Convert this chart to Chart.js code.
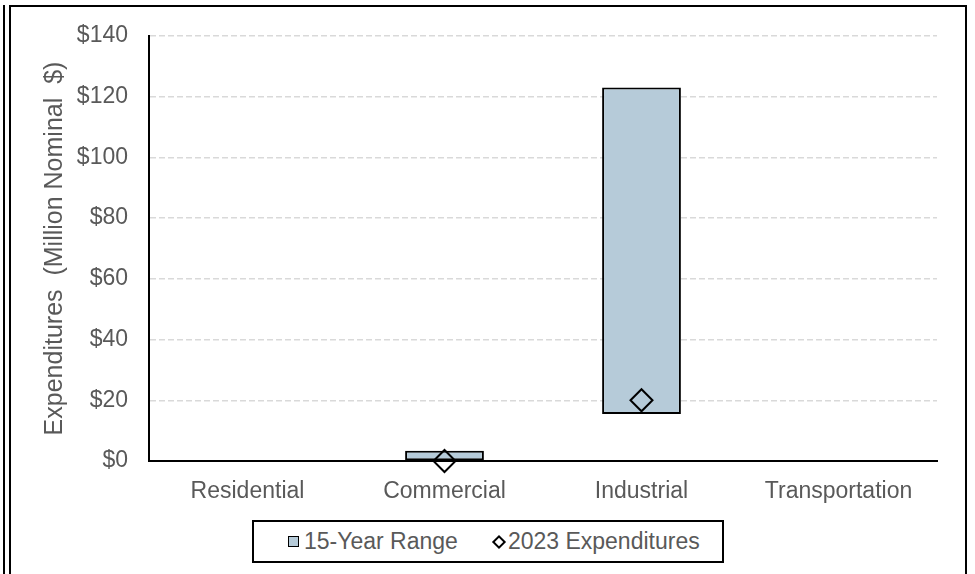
<!DOCTYPE html>
<html>
<head>
<meta charset="utf-8">
<script src="https://cdn.jsdelivr.net/npm/chart.js@4.4.1/dist/chart.umd.min.js"></script>
<style>
  html, body { margin: 0; padding: 0; background: #fff; }
  body { width: 975px; height: 574px; position: relative; overflow: hidden; font-family: "Liberation Sans", Arial, sans-serif; }
  #c { position: absolute; left: 0; top: 0; }
  .line-outer { position: absolute; left: 3px; top: 5px; width: 2px; height: 580px; background: #000; }
  .frame { position: absolute; left: 9px; top: 5px; width: 954px; height: 600px; border-top: 2px solid #000; border-left: 2px solid #000; border-right: 2px solid #000; }
  #legend { position: absolute; left: 252px; top: 520px; width: 468px; height: 39px; border: 2px solid #000; background: #fff;
            display: flex; align-items: center; box-sizing: content-box; }
  #legend .item { display: flex; align-items: center; color: #595959; font-size: 23px; white-space: nowrap; }
  #legend .sq { display: inline-block; width: 9px; height: 9px; border: 1.5px solid #000; margin-right: 5px; }
  #legend .dm { display: inline-block; width: 6px; height: 6px; border: 2px solid #000; transform: rotate(45deg); margin: 0 4px 0 2px; }
</style>
</head>
<body>
<div class="line-outer"></div>
<div class="frame"></div>
<canvas id="c" width="975" height="574"></canvas>
<div id="legend"></div>
<script>
const categories = ['Residential', 'Commercial', 'Industrial', 'Transportation'];
const rangeLow = [null, 0, 15.5, null];
const rangeHigh = [null, 3.4, 123, null];
const expenditures2023 = [null, 0, 20, null];
const yTickValues = [0, 20, 40, 60, 80, 100, 120, 140];
const yTickLabels = ['$0', '$20', '$40', '$60', '$80', '$100', '$120', '$140'];
const seriesNames = ['15-Year Range', '2023 Expenditures'];
const yTitle = 'Expenditures  (Million Nominal  $)';

const barColor = '#B6CBD9';
const textColor = '#595959';
const fontFamily = '"Liberation Sans", Arial, sans-serif';

const rangeData = categories.map((c, i) => rangeLow[i] == null ? null : [rangeLow[i], rangeHigh[i]]);

const htmlLegend = {
  id: 'htmlLegend',
  afterUpdate(chart) {
    const box = document.getElementById('legend');
    box.innerHTML = '';
    chart.data.datasets.forEach((ds) => {
      const item = document.createElement('span');
      item.className = 'item';
      const mark = document.createElement('span');
      if (ds.type === 'bar') {
        mark.className = 'sq';
        mark.style.background = ds.backgroundColor;
      } else {
        mark.className = 'dm';
      }
      item.style.marginLeft = '34px';
      item.appendChild(mark);
      item.appendChild(document.createTextNode(ds.label));
      box.appendChild(item);
    });
  }
};

Chart.defaults.font.family = fontFamily;
Chart.defaults.color = textColor;

new Chart(document.getElementById('c'), {
  data: {
    labels: categories,
    datasets: [
      {
        type: 'bar',
        label: seriesNames[0],
        data: rangeData,
        backgroundColor: barColor,
        borderColor: '#000',
        borderWidth: 2,
        borderSkipped: false,
        barPercentage: 0.4,
        categoryPercentage: 1.0,
        order: 1
      },
      {
        type: 'line',
        label: seriesNames[1],
        data: expenditures2023,
        showLine: false,
        pointStyle: 'rectRot',
        pointRadius: 11,
        pointHoverRadius: 11,
        pointBorderWidth: 2,
        pointBorderColor: '#000',
        pointBackgroundColor: 'rgba(0,0,0,0)',
        clip: false,
        order: 0
      }
    ]
  },
  options: {
    responsive: false,
    animation: false,
    devicePixelRatio: 1,
    layout: { padding: { left: 0, right: 38, top: 36, bottom: 0 } },
    plugins: {
      legend: { display: false },
      tooltip: { enabled: false }
    },
    scales: {
      x: {
        grid: { display: false, drawTicks: false },
        border: { display: true, color: '#000', width: 2 },
        ticks: { font: { size: 23 }, color: textColor, padding: 17, maxRotation: 0 },
        afterFit(s) { s.height = 113; }
      },
      y: {
        min: 0,
        max: 140,
        afterBuildTicks(s) { s.ticks = yTickValues.map(v => ({ value: v })); },
        grid: { color: '#D9D9D9', lineWidth: 1.5, drawTicks: false },
        border: { display: true, color: '#000', width: 2, dash: [6, 3] },
        ticks: {
          font: { size: 23 },
          color: textColor,
          padding: 21,
          callback(v) { const i = yTickValues.indexOf(v); return i >= 0 ? yTickLabels[i] : ''; }
        },
        title: {
          display: true,
          text: yTitle,
          font: { size: 25 },
          color: textColor,
          padding: { top: 40, bottom: 0 }
        },
        afterFit(s) { s.width = 149; }
      }
    }
  },
  plugins: [htmlLegend]
});
</script>
</body>
</html>
